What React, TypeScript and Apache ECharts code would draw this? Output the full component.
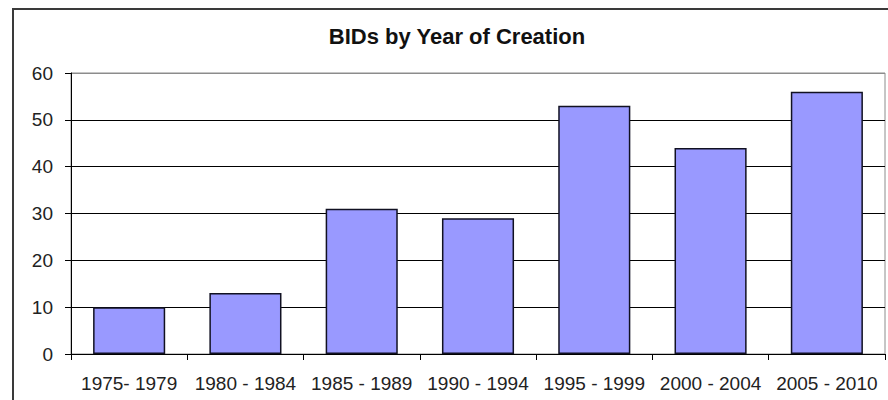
import React, { useEffect, useRef } from "react";
import * as echarts from "echarts";

const categories = ["1975- 1979", "1980 - 1984", "1985 - 1989", "1990 - 1994", "1995 - 1999", "2000 - 2004", "2005 - 2010"];
const values = [10, 13, 31, 29, 53, 44, 56];
const yTicks = { min: 0, max: 60, interval: 10 };
const titleText = "BIDs by Year of Creation";

const FONT = "'Liberation Sans', Arial, sans-serif";

export default function App() {
  const ref = useRef<HTMLDivElement>(null);
  useEffect(() => {
    if (!ref.current) return;
    const chart = echarts.init(ref.current, undefined, { renderer: "svg" });
    chart.setOption({
      animation: false,
      backgroundColor: "#ffffff",
      title: {
        text: titleText,
        left: 457,
        textAlign: "center",
        top: 25,
        padding: 0,
        textStyle: { fontFamily: FONT, fontSize: 22, fontWeight: "bold", color: "#111" },
      },
      graphic: [
        {
          type: "rect",
          shape: { x: 13, y: 9, width: 900, height: 420 },
          style: { fill: "none", stroke: "#3a3a3a", lineWidth: 2 },
          z: 100,
        },
      ],
      grid: {
        left: 71,
        top: 73,
        right: 3,
        bottom: 46,
        show: true,
        borderColor: "#8c8c8c",
        borderWidth: 1,
        backgroundColor: "transparent",
      },
      xAxis: {
        type: "category",
        data: categories,
        axisLine: { show: true, lineStyle: { color: "#000", width: 1 } },
        axisTick: { show: true, alignWithLabel: false, length: 6, lineStyle: { color: "#000" } },
        axisLabel: { fontFamily: FONT, fontSize: 19, color: "#222", margin: 20, interval: 0 },
        splitLine: { show: false },
      },
      yAxis: {
        type: "value",
        min: yTicks.min,
        max: yTicks.max,
        interval: yTicks.interval,
        axisLine: { show: true, lineStyle: { color: "#000", width: 1 } },
        axisTick: { show: true, inside: false, length: 6, lineStyle: { color: "#000" } },
        axisLabel: { fontFamily: FONT, fontSize: 19, color: "#222", margin: 18 },
        splitLine: {
          show: true,
          lineStyle: { color: ["#000", "#000", "#000", "#000", "#000", "#000", "#8c8c8c"], width: 1 },
        },
      },
      series: [
        {
          type: "bar",
          data: values,
          barCategoryGap: "38%",
          itemStyle: { color: "#9999ff", borderColor: "#111122", borderWidth: 1.5 },
          z: 3,
        },
      ],
    });
    return () => chart.dispose();
  }, []);
  return (
    <div
      ref={ref}
      style={{ position: "absolute", left: 0, top: 0, width: 888, height: 400 }}
    />
  );
}
